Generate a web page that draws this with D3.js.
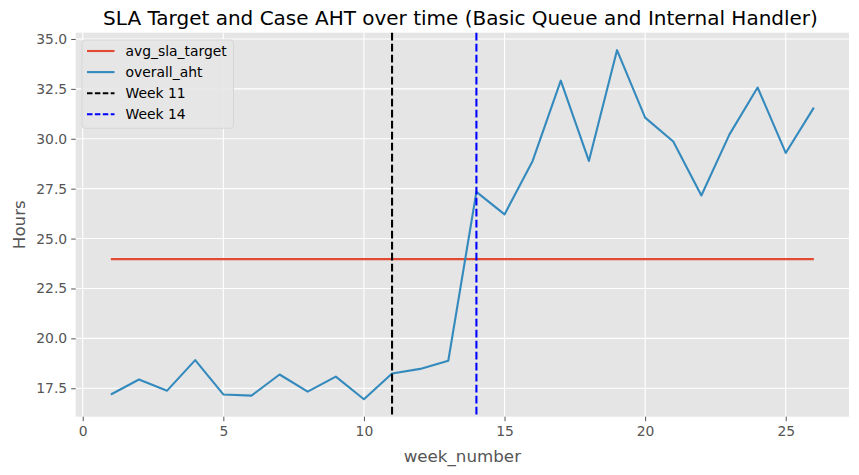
<!DOCTYPE html>
<html>
<head>
<meta charset="utf-8">
<script src="https://cdn.jsdelivr.net/npm/d3@7"></script>
<style>
  body { margin: 0; background: #fff; }
  svg { font-family: "DejaVu Sans", sans-serif; }
</style>
</head>
<body>
<div id="chart"></div>
<script>
// data
var weeks = d3.range(1, 27);
var slaTarget = 23.97;
var overallAht = [17.19, 17.94, 17.38, 18.91, 17.19, 17.13, 18.19, 17.33, 18.08, 16.95,
  18.24, 18.47, 18.88, 27.34, 26.21, 28.89, 32.91, 28.89, 34.44, 31.06,
  29.86, 27.16, 30.22, 32.57, 29.29, 31.56];
var markerWeeks = [11, 14];
var xTicks = [0, 5, 10, 15, 20, 25];
var yTicks = [17.5, 20.0, 22.5, 25.0, 27.5, 30.0, 32.5, 35.0];

var width = 859, height = 475;
var margin = {left: 75.7, right: 10, top: 32.7, bottom: 58.3};

var svg = d3.select('#chart').append('svg')
  .attr('width', width).attr('height', height);

// matplotlib style 5% margins
var xMin = 1, xMax = 26;
var yMin = d3.min(overallAht.concat([slaTarget])), yMax = d3.max(overallAht.concat([slaTarget]));
var xPad = (xMax - xMin) * 0.05, yPad = (yMax - yMin) * 0.05;

var x = d3.scaleLinear().domain([xMin - xPad, xMax + xPad]).range([margin.left, width - margin.right]);
var y = d3.scaleLinear().domain([yMin - yPad, yMax + yPad]).range([height - margin.bottom, margin.top]);

var plotW = width - margin.right - margin.left;
var plotH = height - margin.bottom - margin.top;

svg.append('rect')
  .attr('x', margin.left).attr('y', margin.top)
  .attr('width', plotW).attr('height', plotH)
  .attr('fill', '#E5E5E5');

// grid
var grid = svg.append('g');
grid.selectAll('.gx').data(xTicks).enter().append('line')
  .attr('x1', d => x(d)).attr('x2', d => x(d))
  .attr('y1', margin.top).attr('y2', margin.top + plotH)
  .attr('stroke', '#fff').attr('stroke-width', 1.1);
grid.selectAll('.gy').data(yTicks).enter().append('line')
  .attr('x1', margin.left).attr('x2', margin.left + plotW)
  .attr('y1', d => y(d)).attr('y2', d => y(d))
  .attr('stroke', '#fff').attr('stroke-width', 1.1);

// axes
var xAxis = svg.append('g')
  .attr('transform', 'translate(0,' + (margin.top + plotH) + ')')
  .call(d3.axisBottom(x).tickValues(xTicks).tickSize(4.5).tickPadding(5).tickFormat(d3.format('d')));
var yAxis = svg.append('g')
  .attr('transform', 'translate(' + margin.left + ',0)')
  .call(d3.axisLeft(y).tickValues(yTicks).tickSize(4.5).tickPadding(4).tickFormat(d3.format('.1f')));
[xAxis, yAxis].forEach(function(a) {
  a.select('.domain').remove();
  a.selectAll('line').attr('stroke', '#555').attr('stroke-width', 1);
  a.selectAll('text').attr('fill', '#555').style('font-size', '13.9px')
    .style('font-family', '"DejaVu Sans", sans-serif');
});

// lines
svg.append('line')
  .attr('x1', x(xMin)).attr('x2', x(xMax))
  .attr('y1', y(slaTarget)).attr('y2', y(slaTarget))
  .attr('stroke', '#E24A33').attr('stroke-width', 2.1);

var line = d3.line().x((d, i) => x(weeks[i])).y(d => y(d));
svg.append('path').datum(overallAht)
  .attr('d', line).attr('fill', 'none')
  .attr('stroke', '#348ABD').attr('stroke-width', 2.1)
  .attr('stroke-linejoin', 'round');

var markerColors = ['#000', '#0000FF'];
svg.selectAll('.vline').data(markerWeeks).enter().append('line')
  .attr('x1', d => x(d)).attr('x2', d => x(d))
  .attr('y1', margin.top).attr('y2', margin.top + plotH)
  .attr('stroke', (d, i) => markerColors[i])
  .attr('stroke-width', 2.1)
  .attr('stroke-dasharray', '7.7,3.3');

// title and labels
svg.append('text')
  .attr('x', 460.5).attr('y', 25)
  .attr('text-anchor', 'middle').style('font-size', '20px').attr('fill', '#000')
  .text('SLA Target and Case AHT over time (Basic Queue and Internal Handler)');
svg.append('text')
  .attr('x', margin.left + plotW / 2).attr('y', 462)
  .attr('text-anchor', 'middle').style('font-size', '16.7px').attr('fill', '#555')
  .text('week_number');
svg.append('text')
  .attr('transform', 'translate(25,' + (margin.top + plotH / 2) + ') rotate(-90)')
  .attr('text-anchor', 'middle').style('font-size', '16.7px').attr('fill', '#555')
  .text('Hours');

// legend
var legendItems = [
  {label: 'avg_sla_target', color: '#E24A33', dash: null},
  {label: 'overall_aht', color: '#348ABD', dash: null},
  {label: 'Week 11', color: '#000', dash: '5.5,2.4'},
  {label: 'Week 14', color: '#0000FF', dash: '5.5,2.4'}
];
var lg = svg.append('g').attr('transform', 'translate(82,40)');
lg.append('rect')
  .attr('width', 151.5).attr('height', 88.3).attr('rx', 3)
  .attr('fill', '#E5E5E5').attr('fill-opacity', 0.9)
  .attr('stroke', '#D6D6D6').attr('stroke-width', 1);
var rows = lg.selectAll('.row').data(legendItems).enter().append('g')
  .attr('transform', (d, i) => 'translate(0,' + (11 + i * 21.1) + ')');
rows.append('line')
  .attr('x1', 5).attr('x2', 32.5)
  .attr('stroke', d => d.color).attr('stroke-width', 2.1)
  .attr('stroke-dasharray', d => d.dash);
rows.append('text')
  .attr('x', 43.5).attr('dy', '0.35em')
  .style('font-size', '13.9px').attr('fill', '#000')
  .text(d => d.label);
</script>
</body>
</html>
